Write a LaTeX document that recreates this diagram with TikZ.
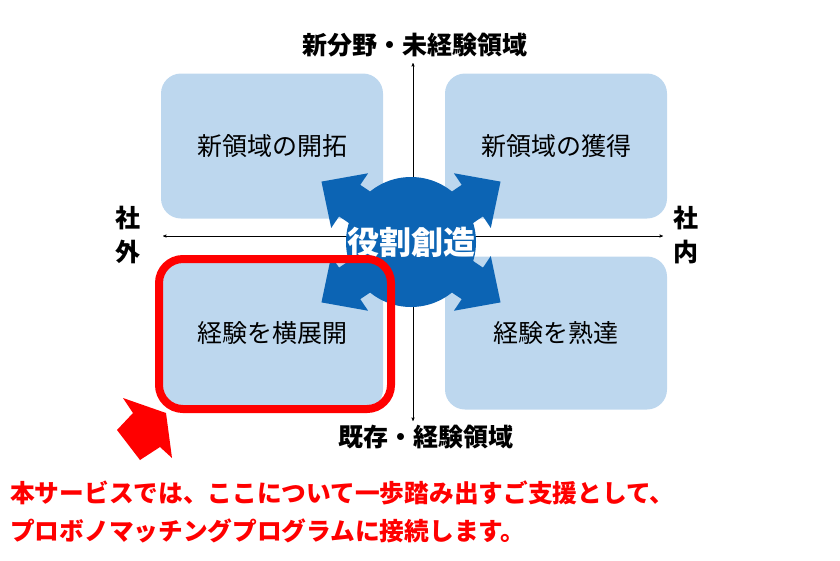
\documentclass[tikz,border=0pt]{standalone}
\usepackage{fontspec}
\newfontfamily\jp{Noto Sans CJK JP}
\usetikzlibrary{positioning}
\usetikzlibrary{arrows}
\definecolor{paleblue}{RGB}{189,215,238}
\definecolor{roleblue}{RGB}{12,100,180}

\begin{document}
\begin{tikzpicture}[x=1pt,y=-1pt,>=stealth',node distance=284pt,
	quad/.style={rectangle,rounded corners=20pt,fill=paleblue,minimum width=222pt,
		minimum height=145pt,font=\jp\fontsize{25}{30}\selectfont},
	axis label/.style={font=\jp\bfseries\fontsize{25}{34}\selectfont,align=center,inner sep=0pt},
	note/.style={font=\jp\bfseries\fontsize{24.7}{28}\selectfont,text=red,anchor=west,inner sep=0pt},
	spoke/.style={fill=roleblue}]
	
	\useasboundingbox (0,0) rectangle (840,560);
	
	\node[quad] (nw) at (272,146) {新領域の開拓};
	\node[quad] (ne) [right of=nw] {新領域の獲得};
	\node[quad,minimum height=153pt] (sw) [below of=nw,node distance=187pt] {経験を横展開};
	\node[quad,minimum height=153pt] (se) [below of=ne,node distance=187pt] {経験を熟達};
	
	\node[axis label] (top) at (415,45) {新分野・未経験領域};
	\node[axis label] (bottom) at (426,437) {既存・経験領域};
	\node[axis label] (left) at (128,235) {社\\外};
	\node[axis label] (right) at (686,235) {社\\内};
	
	\coordinate (axis w) at (163,236);
	\coordinate (axis e) at (663,236);
	\coordinate (axis n) at (413,63);
	\coordinate (axis s) at (413,421);
	\draw[<->,thin] (axis w) -- (axis e);
	\draw[<->,thin] (axis n) -- (axis s);
	
	\coordinate (hub) at (411,242);
	\foreach \ang in {34,146,214,326}
	\fill[spoke,shift={(hub)},rotate=\ang]
	(0,-19) -- (74,-19) -- (74,-33) -- (108,0) -- (74,33) -- (74,19) -- (0,19) -- cycle;
	\fill[roleblue] (hub) circle (65pt);
	\node[font=\jp\bfseries\fontsize{32}{36}\selectfont,text=white] (role) at (hub) {役割創造};
	
	\node[draw=red,line width=8pt,rounded corners=24pt,minimum width=232pt,
	minimum height=150pt] (frame) at (275,334) {};
	\fill[red] (166,413) -- (123,398) -- (133,413) -- (117,430) -- (140,460)
	-- (160,447) -- (172,458) -- cycle;
	
	\node[note] (line one) at (10,493) {本サービスでは、ここについて一歩踏み出すご支援として、};
	\node[note] (line two) at (10,531) {プロボノマッチングプログラムに接続します。};
\end{tikzpicture}
\end{document}
